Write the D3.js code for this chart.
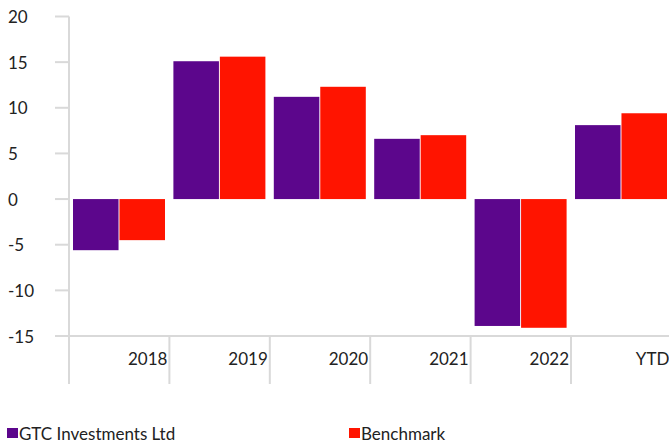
<!DOCTYPE html>
<html>
<head>
<meta charset="utf-8">
<script src="https://cdn.jsdelivr.net/npm/d3@7"></script>
<style>
    body { margin: 0; background: #ffffff; }
    .font { font-family: Lato, "Open Sans", sans-serif; fill: #222222; }
    .tick-label { font-size: 17px; }
    .legend-label { font-size: 17px; }
</style>
</head>
<body>
<svg id="chart" width="669" height="442"></svg>
<script>
const SVG_WIDTH = 669;
const SVG_HEIGHT = 442;
const AXIS_COLOR = "#d9d9d9";

const categories = ["2018", "2019", "2020", "2021", "2022", "YTD"];
const seriesNames = ["GTC Investments Ltd", "Benchmark"];
const seriesColors = ["#5c068c", "#ff1400"];
const gtcValues = [-5.6, 15.1, 11.2, 6.6, -13.9, 8.1];
const benchmarkValues = [-4.5, 15.6, 12.3, 7.0, -14.1, 9.4];
const yTickValues = [20, 15, 10, 5, 0, -5, -10, -15];

var dataset = categories.map(function(c, i) {
    return {category: c, values: [gtcValues[i], benchmarkValues[i]]};
});

var svg = d3.select("#chart");

var yScale = d3.scaleLinear()
    .domain([-15, 20])
    .range([336, 16.5]);

var xScale = d3.scaleBand()
    .domain(categories)
    .range([69, 69 + 100.4 * categories.length]);

var seriesScale = d3.scaleBand()
    .domain(seriesNames)
    .range([4, 96])
    .paddingInner(0.02);

// y axis: tick marks plus left-aligned labels
var yAxisGroup = svg.append("g");
yAxisGroup.append("line")
    .attr("x1", 69).attr("x2", 69)
    .attr("y1", yScale(20)).attr("y2", 384)
    .attr("stroke", AXIS_COLOR).attr("stroke-width", 2);
yAxisGroup.selectAll(".y-tick")
    .data(yTickValues)
    .enter()
    .append("line")
    .attr("x1", 55).attr("x2", 69)
    .attr("y1", function(d) { return yScale(d); })
    .attr("y2", function(d) { return yScale(d); })
    .attr("stroke", AXIS_COLOR).attr("stroke-width", 2);
yAxisGroup.selectAll(".y-label")
    .data(yTickValues)
    .enter()
    .append("text")
    .attr("x", 8)
    .attr("y", function(d) { return yScale(d); })
    .attr("dominant-baseline", "central")
    .classed("font tick-label", true)
    .text(function(d) { return d; });

// x axis along the bottom (-15) with category separators
var xAxisGroup = svg.append("g");
xAxisGroup.append("line")
    .attr("x1", 55).attr("x2", SVG_WIDTH + 10)
    .attr("y1", yScale(-15)).attr("y2", yScale(-15))
    .attr("stroke", AXIS_COLOR).attr("stroke-width", 2);
xAxisGroup.selectAll(".x-sep")
    .data(categories)
    .enter()
    .append("line")
    .attr("x1", function(d) { return xScale(d) + xScale.bandwidth(); })
    .attr("x2", function(d) { return xScale(d) + xScale.bandwidth(); })
    .attr("y1", yScale(-15)).attr("y2", 384)
    .attr("stroke", AXIS_COLOR).attr("stroke-width", 2);
xAxisGroup.selectAll(".x-label")
    .data(categories)
    .enter()
    .append("text")
    .attr("x", function(d) { return Math.min(xScale(d) + xScale.bandwidth() - 2, SVG_WIDTH + 1); })
    .attr("y", 358)
    .attr("text-anchor", "end")
    .attr("dominant-baseline", "central")
    .classed("font tick-label", true)
    .text(function(d) { return d; });

// bars
var groups = svg.selectAll(".group")
    .data(dataset)
    .enter()
    .append("g")
    .attr("transform", function(d) { return "translate(" + xScale(d.category) + ",0)"; });
groups.selectAll("rect")
    .data(function(d) {
        return d.values.map(function(v, i) { return {key: seriesNames[i], value: v, idx: i}; });
    })
    .enter()
    .append("rect")
    .attr("x", function(d) { return seriesScale(d.key); })
    .attr("width", seriesScale.bandwidth())
    .attr("y", function(d) { return yScale(Math.max(0, d.value)); })
    .attr("height", function(d) { return Math.abs(yScale(d.value) - yScale(0)); })
    .attr("fill", function(d) { return seriesColors[d.idx]; });

// legend
var legendX = [7, 349];
var legend = svg.selectAll(".legend")
    .data(seriesNames)
    .enter()
    .append("g")
    .attr("transform", function(d, i) { return "translate(" + legendX[i] + ",428)"; });
legend.append("rect")
    .attr("width", 11).attr("height", 10)
    .attr("fill", function(d, i) { return seriesColors[i]; });
legend.append("text")
    .attr("x", 12)
    .attr("y", 5)
    .attr("dominant-baseline", "central")
    .classed("font legend-label", true)
    .text(function(d) { return d; });
</script>
</body>
</html>
